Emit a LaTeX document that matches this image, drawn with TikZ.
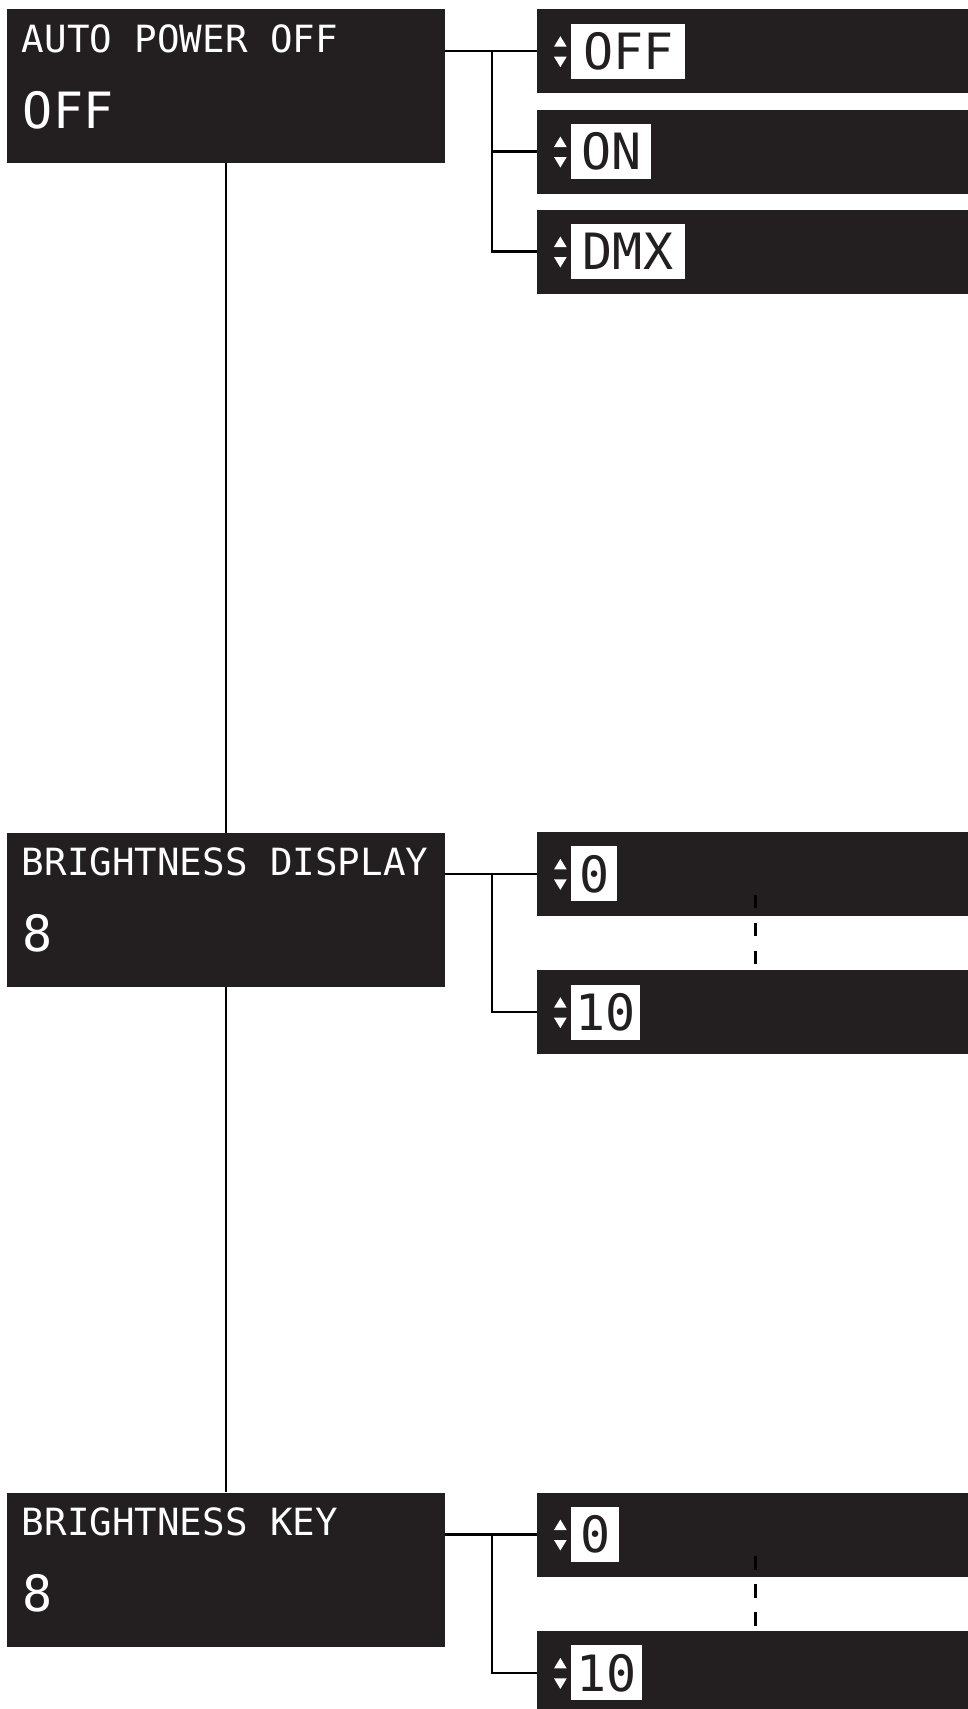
\documentclass[tikz,border=0pt]{standalone}
\usepackage{fontspec}
\usetikzlibrary{calc, positioning}
\newfontfamily\lcdfont{DejaVu Sans Mono}
\definecolor{panelblack}{HTML}{231F20}
\newcommand{\lcdsmall}{\lcdfont\fontsize{37.5pt}{40pt}\selectfont}
\newcommand{\lcdbig}{\lcdfont\fontsize{50pt}{54pt}\selectfont}

\begin{document}
\begin{tikzpicture}[x=1pt, y=-1pt,
  menubox/.style={fill=panelblack, minimum width=438.3pt, minimum height=154pt, inner sep=0pt, anchor=north west},
  optpanel/.style={fill=panelblack, minimum width=431.3pt, minimum height=84pt, inner sep=0pt, anchor=north west},
  valbox/.style={fill=white, text=panelblack, minimum height=55pt, inner sep=0pt, anchor=west, font=\lcdbig},
  menutitle/.style={text=white, inner sep=0pt, anchor=base west, font=\lcdsmall},
  menuvalue/.style={text=white, inner sep=0pt, anchor=base west, font=\lcdbig},
  link/.style={line width=2.3pt},
  rangeline/.style={line width=2.5pt, dash pattern=on 13.5pt off 14.5pt}]
  \useasboundingbox (0,0) rectangle (968,1709);
  % menu entries
  \node[menubox] (m1) at (6.7,9) {};
  \node[menubox] (m2) at (6.7,832.7) {};
  \node[menubox] (m3) at (6.7,1492.3) {};
  \node[menutitle] (t1) at ($(m1.north west)+(15,43.5)$) {AUTO POWER OFF};
  \node[menutitle] (t2) at ($(m2.north west)+(15,42.5)$) {BRIGHTNESS DISPLAY};
  \node[menutitle] (t3) at ($(m3.north west)+(15,43)$) {BRIGHTNESS KEY};
  \node[menuvalue] (s1) at ($(m1.north west)+(16,119)$) {OFF};
  \node[menuvalue] (s2) at ($(m2.north west)+(16,119)$) {8};
  \node[menuvalue] (s3) at ($(m3.north west)+(16,119)$) {8};
  % option panels
  \node[optpanel] (p1) at (536.7,9) {};
  \node[optpanel] (p2) at (536.7,109.3) {};
  \node[optpanel] (p3) at (536.7,209.3) {};
  \node[optpanel] (q1) at (536.7,831.7) {};
  \node[optpanel] (q2) at (536.7,970) {};
  \node[optpanel] (r1) at (536.7,1492.3) {};
  \node[optpanel] (r2) at (536.7,1630.7) {};
  \node[valbox, minimum width=114pt] (v1) at ($(p1.west)+(34.3,0)$) {OFF};
  \node[valbox, minimum width=80pt] (v2) at ($(p2.west)+(34.3,0)$) {ON};
  \node[valbox, minimum width=113.5pt] (v3) at ($(p3.west)+(34.3,0)$) {DMX};
  \node[valbox, minimum width=46pt] (w1) at ($(q1.west)+(34.3,0)$) {0};
  \node[valbox, minimum width=69pt] (w2) at ($(q2.west)+(34.3,0)$) {10};
  \node[valbox, minimum width=48pt] (u1) at ($(r1.west)+(34.3,0)$) {0};
  \node[valbox, minimum width=71pt] (u2) at ($(r2.west)+(34.3,0)$) {10};
  % up/down marks
  \foreach \p in {p1,p2,p3,q1,q2,r1,r2}{
    \fill[white] ($(\p.west)+(17.3,-4.5)$) -- ++(12.7,0) -- ++(-6.35,-10.5) -- cycle;
    \fill[white] ($(\p.west)+(17.3,5.5)$) -- ++(12.7,0) -- ++(-6.35,10.5) -- cycle;
  }
  % connectors
  \draw[link] (m1.south) -- (m2.north);
  \draw[link] (m2.south) -- (m3.north);
  \draw[link] (m1.east |- p1.west) -- (p1.west);
  \coordinate (j1) at ($(p1.west)+(-45,0)$);
  \draw[link] (j1) |- (p3.west);
  \draw[link] (j1 |- p2.west) -- (p2.west);
  \draw[link] (m2.east |- q1.west) -- (q1.west);
  \coordinate (j2) at ($(q1.west)+(-45,0)$);
  \draw[link] (j2) |- (q2.west);
  \draw[link] (m3.east |- r1.west) -- (r1.west);
  \coordinate (j3) at ($(r1.west)+(-45,0)$);
  \draw[link] (j3) |- (r2.west);
  \draw[rangeline] ($(q1.west)+(219,21)$) -- ($(q2.west)+(219,-48)$);
  \draw[rangeline] ($(r1.west)+(219,21.5)$) -- ($(r2.west)+(219,-47)$);
\end{tikzpicture}
\end{document}
